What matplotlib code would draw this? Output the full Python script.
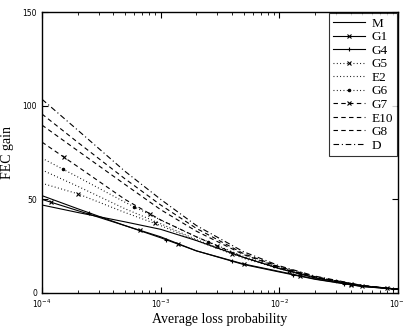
import matplotlib
matplotlib.use("Agg")
import matplotlib.pyplot as plt
import numpy as np

# average loss probability grid
loss = [1e-4, 2e-4, 5e-4, 1e-3, 2e-3, 5e-3, 1e-2, 2e-2, 5e-2, 1e-1]

gain_M = [47, 43, 38, 34, 28, 19, 13, 8, 3.8, 2]
gain_G1 = [50, 44, 36, 30, 22.5, 15.5, 11.5, 7.5, 3.5, 2]
gain_G4 = [52, 45, 36, 29.5, 22.5, 15.2, 11.2, 7.3, 3.4, 2]
gain_G5 = [58.6, 53, 43, 36, 28, 18.5, 13, 8.2, 3.7, 2]
gain_E2 = [65.7, 57, 45, 37, 28.5, 19, 13.2, 8.3, 3.8, 2]
gain_G6 = [72, 62, 48.5, 39, 30, 19.5, 13.5, 8.4, 3.8, 2]
gain_G7 = [80.6, 67.5, 50, 39, 30, 19, 13.2, 8.3, 3.8, 2]
gain_E10 = [89.7, 76, 58, 44.5, 33, 20.5, 13.7, 8.5, 3.9, 2]
gain_G8 = [95.6, 80.5, 61, 47, 34.5, 21, 14, 8.7, 3.9, 2]
gain_D = [103.5, 87, 65, 50, 36, 22, 14.5, 9, 4, 2]

# where the marker symbols sit along some of the curves
marks_G1 = [1.2e-4, 6.7e-4, 1.4e-3, 5e-3, 1.5e-2, 4e-2, 8e-2]
marks_G4 = [2.5e-4, 1.1e-3, 4e-3, 1.3e-2, 3.5e-2, 9e-2]
marks_G5 = [2e-4, 8.9e-4, 4e-3, 1.5e-2, 5e-2]
marks_G6 = [1.5e-4, 6e-4, 2.5e-3, 9e-3, 3e-2]
marks_G7 = [1.54e-4, 8.1e-4, 3e-3, 1.2e-2, 4e-2]

solid = "-"
dotted = (0, (0.8, 2.2))
dashed = (0, (4, 3))
dashdot = (0, (5, 2.5, 1, 2.5))

series = [
    ("M", gain_M, solid, None, None),
    ("G1", gain_G1, solid, "x", marks_G1),
    ("G4", gain_G4, solid, "+", marks_G4),
    ("G5", gain_G5, dotted, "x", marks_G5),
    ("E2", gain_E2, dotted, None, None),
    ("G6", gain_G6, dotted, ".", marks_G6),
    ("G7", gain_G7, dashed, "x", marks_G7),
    ("E10", gain_E10, dashed, None, None),
    ("G8", gain_G8, dashed, None, None),
    ("D", gain_D, dashdot, None, None),
]

fig = plt.figure(figsize=(4.03, 3.27), dpi=100)
ax = fig.add_axes([0.104, 0.104, 0.884, 0.859])

logx = np.log10(loss)
handles = []
for name, values, style, marker, marks in series:
    ax.plot(loss, values, color="black", linestyle=style, linewidth=0.8)
    if marker is not None:
        mx = np.array(marks)
        my = np.interp(np.log10(mx), logx, values)
        ax.plot(mx, my, linestyle="none", marker=marker, color="black",
                markersize=3.5, markeredgewidth=0.8)
    # proxy for the legend entry
    h, = ax.plot([], [], color="black", linestyle=style, linewidth=0.8,
                 marker=marker, markersize=3.5, markeredgewidth=0.8, label=name)
    handles.append(h)

ax.set_xscale("log")
ax.set_xlim(1e-4, 1e-1)
ax.set_ylim(0, 150)
ax.set_yticks([0, 50, 100, 150])

ax.tick_params(which="both", direction="in", top=True, right=True, labelsize=5.5)
ax.tick_params(which="major", length=4)
ax.tick_params(which="minor", length=2)
for s in ax.spines.values():
    s.set_linewidth(1.0)

serif = "Liberation Serif"
ax.set_xlabel("Average loss probability", family=serif, fontsize=10, labelpad=2)
ax.set_ylabel("FEC gain", family=serif, fontsize=10, labelpad=6)

leg = ax.legend(handles=handles, loc="upper right",
                prop={"family": serif, "size": 9.5},
                frameon=True, fancybox=False, borderaxespad=0.1,
                handlelength=2.4, labelspacing=0.1, handletextpad=0.5,
                borderpad=0.3)
leg.get_frame().set_edgecolor("black")
leg.get_frame().set_linewidth(0.8)

fig.savefig("out.png", dpi=100)
